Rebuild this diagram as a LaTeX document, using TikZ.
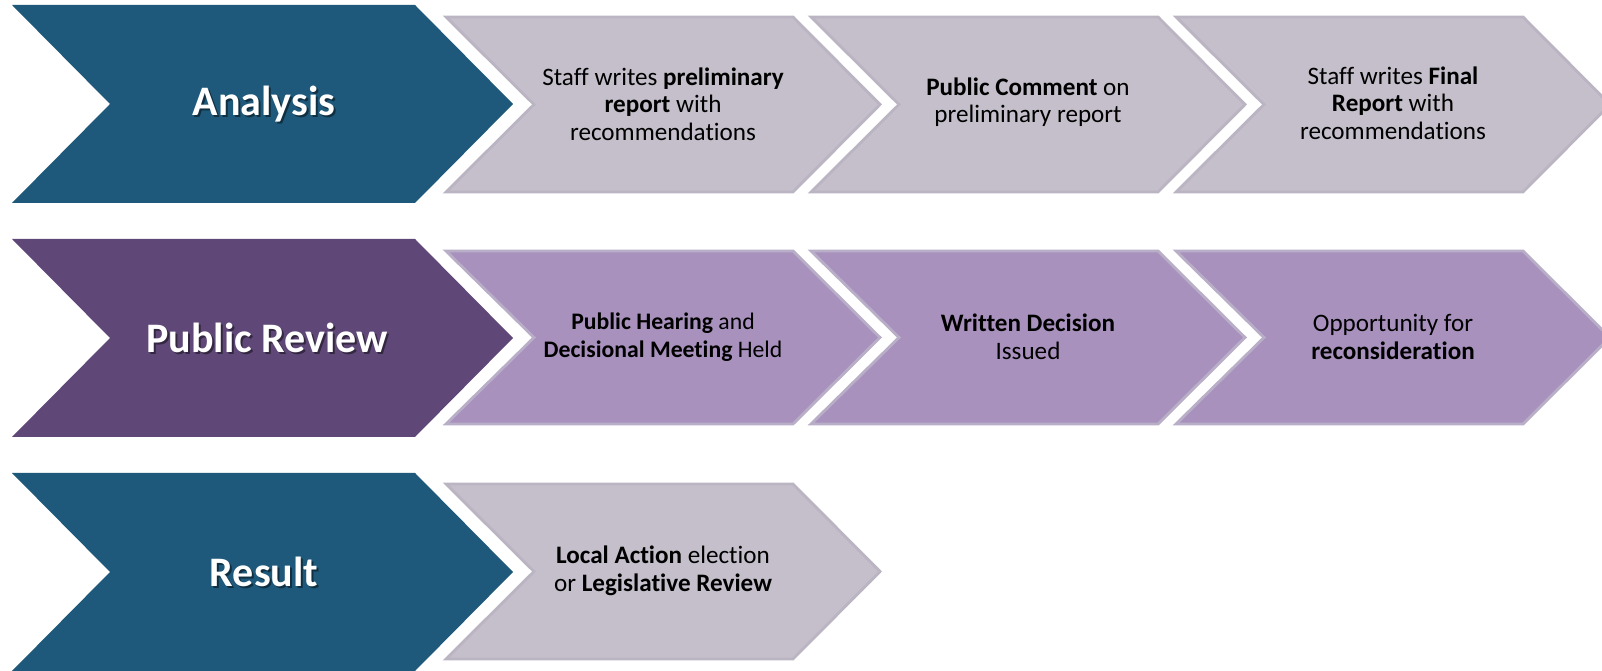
\documentclass[tikz,border=0pt]{standalone}
\usepackage{fontspec}
\setmainfont{Carlito}[Ligatures=NoCommon]
\definecolor{stageblue}{HTML}{1E587A}
\definecolor{stagepurple}{HTML}{5F4878}
\definecolor{stepgray}{HTML}{C4BFCA}
\definecolor{steplilac}{HTML}{A891BD}
\definecolor{edgegray}{HTML}{BBB5C3}
\definecolor{edgelilac}{HTML}{B8AEC7}

\begin{document}
\begin{tikzpicture}[x=0.02cm,y=-0.02cm,
    stagetitle/.style={text=white,inner sep=0pt,font=\fontsize{23.9}{28}\selectfont\bfseries},
    titleshadow/.style={text=black,opacity=0.45,inner sep=0pt,font=\fontsize{23.9}{28}\selectfont\bfseries},
    steptext/.style={align=center,inner sep=0pt,font=\fontsize{14.3}{15.65}\selectfont},
    graystep/.style={fill=stepgray,draw=edgegray,line width=1.6pt},
    lilacstep/.style={fill=steplilac,draw=edgelilac,line width=1.6pt}]
    \useasboundingbox (0,0) rectangle (1602,671);
    \clip (0,0) rectangle (1602,671);

    % row 1: Analysis
    \fill[stageblue]
      (12,5) -- (415,5) -- (513,104) -- (415,203) -- (12,203) -- (110,104) -- cycle;
    \draw[graystep]
      (446,17) -- (793,17) -- (880,104.5) -- (793,192) -- (446,192) -- (534,104.5) -- cycle;
    \draw[graystep]
      (811,17) -- (1158,17) -- (1245,104.5) -- (1158,192) -- (811,192) -- (899,104.5) -- cycle;
    \draw[graystep]
      (1176,17) -- (1523,17) -- (1610,104.5) -- (1523,192) -- (1176,192) -- (1264,104.5) -- cycle;

    \node[titleshadow] at (266,106) {Analysis};
    \node[stagetitle] (ana) at (264,104) {Analysis};
    \node[steptext] (ana1) at (663,104) {Staff writes \textbf{preliminary}\\\textbf{report} with\\recommendations};
    \node[steptext] (ana2) at (1028,102) {\textbf{Public Comment} on\\preliminary report};
    \node[steptext] (ana3) at (1393,103) {Staff writes \textbf{Final}\\\textbf{Report} with\\recommendations};

    % row 2: Public Review
    \fill[stagepurple]
      (12,239) -- (415,239) -- (513,338) -- (415,437) -- (12,437) -- (110,338) -- cycle;
    \draw[lilacstep]
      (446,251) -- (793,251) -- (880,337.5) -- (793,424) -- (446,424) -- (534,337.5) -- cycle;
    \draw[lilacstep]
      (811,251) -- (1158,251) -- (1245,337.5) -- (1158,424) -- (811,424) -- (899,337.5) -- cycle;
    \draw[lilacstep]
      (1176,251) -- (1523,251) -- (1610,337.5) -- (1523,424) -- (1176,424) -- (1264,337.5) -- cycle;

    \node[titleshadow] at (269,340) {Public Review};
    \node[stagetitle] (rev) at (267,338) {Public Review};
    \node[steptext,font=\fontsize{13.5}{15.65}\selectfont] (rev1) at (663,337) {\textbf{Public Hearing} and\\\textbf{Decisional Meeting} Held};
    \node[steptext] (rev2) at (1028,337) {\textbf{Written Decision}\\Issued};
    \node[steptext] (rev3) at (1393,337) {Opportunity for\\\textbf{reconsideration}};

    % row 3: Result
    \fill[stageblue]
      (12,473) -- (415,473) -- (513,572) -- (415,671) -- (12,671) -- (110,572) -- cycle;
    \draw[graystep]
      (446,484) -- (793,484) -- (880,571.5) -- (793,659) -- (446,659) -- (534,571.5) -- cycle;

    \node[titleshadow] at (266,574) {Result};
    \node[stagetitle] (res) at (264,572) {Result};
    \node[steptext] (res1) at (663,571) {\textbf{Local Action} election\\or \textbf{Legislative Review}};
  \end{tikzpicture}
\end{document}
